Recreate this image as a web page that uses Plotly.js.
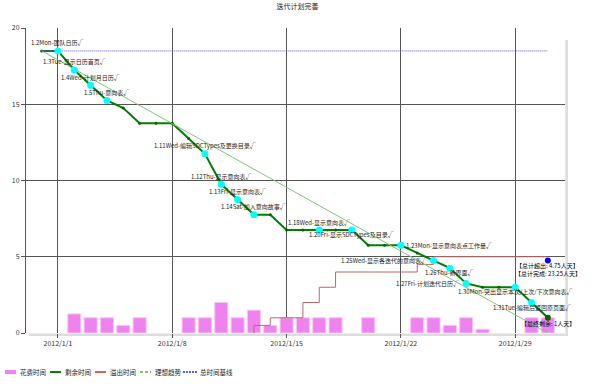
<!DOCTYPE html>
<html>
<head>
<meta charset="utf-8">
<script src="https://cdn.plot.ly/plotly-3.0.1.min.js"></script>
<style>html,body{margin:0;padding:0;background:#fff;}#chart{width:595px;height:387px;}</style>
</head>
<body>
<div id="chart"></div>
<script>
// ---- data ----
const chartTitle = '迭代计划完善';
const seriesNames = ['花费时间', '剩余时间', '溢出时间', '理想趋势', '总时间基线'];

// spent time per day (bars)
const spentDates = ['2012-01-02','2012-01-03','2012-01-04','2012-01-05','2012-01-06',
  '2012-01-09','2012-01-10','2012-01-11','2012-01-12','2012-01-13','2012-01-14',
  '2012-01-15','2012-01-16','2012-01-17','2012-01-18','2012-01-20',
  '2012-01-23','2012-01-24','2012-01-25','2012-01-26','2012-01-27',
  '2012-01-30','2012-01-31'];
const spentValues = [1.25,1,1,0.5,1, 1,1,2,1,1.5,0.5, 1,1,1,1,1, 1,1,0.5,1,0.25, 1,1];

// remaining time
const remainDates = ['2011-12-31','2012-01-01','2012-01-02','2012-01-03','2012-01-04','2012-01-05',
  '2012-01-06','2012-01-07','2012-01-08','2012-01-09','2012-01-10','2012-01-11','2012-01-12',
  '2012-01-13','2012-01-14','2012-01-15','2012-01-16','2012-01-17','2012-01-18','2012-01-19',
  '2012-01-20','2012-01-21','2012-01-22','2012-01-23','2012-01-24','2012-01-25','2012-01-26',
  '2012-01-27','2012-01-28','2012-01-29','2012-01-30','2012-01-31'];
const remainValues = [18.5,18.5,17.25,16.25,15.25,14.75,
  13.75,13.75,13.75,12.75,11.75,9.75,8.75,
  7.75,7.75,6.75,6.75,6.75,6.75,6.75,
  5.75,5.75,5.75,5.25,4.75,4.25,3.25,
  3.0,3.0,3.0,2.0,1.0];

// overrun time (step line)
const overDates = ['2012-01-13','2012-01-13','2012-01-14','2012-01-15','2012-01-16','2012-01-17',
  '2012-01-18','2012-01-19','2012-01-20','2012-01-21','2012-01-22','2012-01-23','2012-01-24',
  '2012-01-25','2012-01-26','2012-01-27','2012-01-28','2012-01-29','2012-01-30','2012-01-31'];
const overValues = [0,0.5,1,1,2,3, 4,4,4,4,4,4.5,5, 5,5,5,5,5,5,5];

// ideal trend and total baseline
const idealDates = ['2011-12-31','2012-01-31'];
const idealValues = [18.5, 0];
const baseDates = ['2011-12-31','2012-01-31'];
const baseValues = [18.5, 18.5];

// milestones
const mileDates = ['2012-01-01','2012-01-02','2012-01-03','2012-01-04','2012-01-10','2012-01-11',
  '2012-01-12','2012-01-13','2012-01-17','2012-01-19','2012-01-22','2012-01-24','2012-01-25',
  '2012-01-26','2012-01-29','2012-01-30'];
const mileLabels = ['1.2Mon-团队日历√','1.3Tue-显示日历首页√','1.4Wed-计划月日历√','1.5Thu-意向表√',
  '1.11Wed-编辑SDCTypes及更换目录√','1.12Thu-显示意向表√','1.13Fri-显示意向表√','1.14Sat-加入意向故事√',
  '1.18Wed-显示意向表√','1.20Fri-显示SDCTypes及目录√','1.23Mon-显示意向表点工作量√',
  '1.25Wed-显示各迭代的意向表√','1.26Thu-新界面√','1.27Fri-计划迭代日历√',
  '1.30Mon-突出显示本次/上次/下次意向表√','1.31Tue-编辑后返回原页面√'];
const milePos = ['top','top','top','top','top','top','top','top','top',
  'bottom','right','left','bottom','left','bottom','bottom'];

const totalOverText = '【总计超出: 4.75人天】';
const totalDoneText = '【总计完成: 23.25人天】';
const finalRemainText = '【最终剩余: 1人天】';
const totalOver = 4.75;

// ---- build ----
const FONT = '"Noto Sans CJK SC", "Noto Sans", sans-serif';
const mileY = mileDates.map(d => remainValues[remainDates.indexOf(d)]);
const lastDate = remainDates[remainDates.length - 1];
const lastRemain = remainValues[remainValues.length - 1];
const DAY = 86400000;

const colors = {spent:'#ee82ee', remain:'#008000', over:'#c06666', ideal:'#7cc87c', base:'#5a5aff'};

const traces = [
  {type:'bar', name:seriesNames[0], x:spentDates, y:spentValues, width:0.8*DAY,
   marker:{color:colors.spent, line:{color:'#f6c6f6', width:1}}},
  {type:'scatter', mode:'lines+markers', name:seriesNames[1], x:remainDates, y:remainValues,
   line:{color:colors.remain, width:2}, marker:{color:'#006400', size:3}},
  {type:'scatter', mode:'lines', name:seriesNames[2], x:overDates, y:overValues,
   line:{color:colors.over, width:1, shape:'hv'}},
  {type:'scatter', mode:'lines', name:seriesNames[3], x:idealDates, y:idealValues,
   line:{color:colors.ideal, width:1}},
  {type:'scatter', mode:'lines', name:seriesNames[4], x:baseDates, y:baseValues,
   line:{color:colors.base, width:1, dash:'1px,1px'}},
  {type:'scatter', mode:'markers', name:'milestones', x:mileDates, y:mileY,
   marker:{color:'#00ffff', size:7}, cliponaxis:false},
  {type:'scatter', mode:'markers', name:'final', x:[lastDate], y:[lastRemain],
   marker:{color:'#006400', size:6}},
  {type:'scatter', mode:'markers', name:'overrun total', x:[lastDate], y:[totalOver],
   marker:{color:'#0000ff', size:6}}
];
traces.forEach(t => t.showlegend = false);

// milestone labels as annotations
const posStyle = {
  top:{xanchor:'center', yanchor:'middle', xshift:0, yshift:8},
  bottom:{xanchor:'center', yanchor:'middle', xshift:0, yshift:-4.5},
  right:{xanchor:'left', yanchor:'middle', xshift:3, yshift:0},
  left:{xanchor:'right', yanchor:'middle', xshift:-5, yshift:0}
};
const mileAnn = mileDates.map((d, i) => Object.assign({
  x:d, y:mileY[i], xref:'x', yref:'y', text:mileLabels[i], showarrow:false,
  font:{family:FONT, size:6, color:'#222'}
}, posStyle[milePos[i]]));

// manual compact legend (reference style)
const legendShapes = [];
const legendAnn = [];
const legY = -0.128;
const legItems = [[5, 18], [50, 63], [95, 108], [140, 153], [183, 198]];
const plotL = 26, plotW = 539;
const px = v => (v - plotL) / plotW;
const symStyles = [
  {kind:'rect', color:colors.spent},
  {kind:'line', color:colors.remain, width:2, dash:'solid'},
  {kind:'line', color:colors.over, width:2, dash:'solid'},
  {kind:'line', color:colors.ideal, width:2, dash:'3px,2px'},
  {kind:'line', color:colors.base, width:2, dash:'2px,1px'}
];
legItems.forEach((it, i) => {
  const s = symStyles[i];
  const w = i === 4 ? 14 : 11;
  if (s.kind === 'rect') {
    legendShapes.push({type:'rect', xref:'paper', yref:'paper', x0:px(it[0]), x1:px(it[0]+w),
      y0:legY - 2/305, y1:legY + 2/305, fillcolor:s.color, line:{width:0}});
  } else {
    legendShapes.push({type:'line', xref:'paper', yref:'paper', x0:px(it[0]), x1:px(it[0]+w),
      y0:legY, y1:legY, line:{color:s.color, width:s.width, dash:s.dash}});
  }
  legendAnn.push({xref:'paper', yref:'paper', x:px(it[1]), y:legY, xanchor:'left', yanchor:'middle',
    text:seriesNames[i], showarrow:false, font:{family:FONT, size:6.5, color:'#222'}});
});

const layout = {
  width:595, height:387,
  margin:{l:26, r:30, t:28, b:54, autoexpand:false},
  paper_bgcolor:'#fff', plot_bgcolor:'#fff',
  font:{family:FONT, size:7, color:'#333'},
  title:{text:chartTitle, x:0.5, xanchor:'center', y:0.982, yanchor:'middle',
         font:{family:FONT, size:7, color:'#222'}},
  showlegend:false,
  bargap:0,
  xaxis:{type:'date', range:['2011-12-30 01:00','2012-02-01 01:12'],
         tickvals:['2012-01-01','2012-01-08','2012-01-15','2012-01-22','2012-01-29'],
         ticktext:['2012/1/1','2012/1/8','2012/1/15','2012/1/22','2012/1/29'],
         showgrid:true, gridcolor:'#555', gridwidth:1,
         ticks:'outside', ticklen:4, tickcolor:'#555',
         showline:false, zeroline:false, tickfont:{size:7, color:'#333'}},
  yaxis:{range:[0,20], tickvals:[0,5,10,15,20], showgrid:true, gridcolor:'#555', gridwidth:1,
         ticks:'outside', ticklen:4, tickcolor:'#555', showline:true, linecolor:'#555',
         zeroline:false, tickfont:{size:7, color:'#333'}},
  shapes:[
    {type:'rect', xref:'paper', yref:'paper', x0:1.0005, x1:1+3/539, y0:-3/305, y1:1-12/305,
     fillcolor:'#dddddd', line:{width:0}, layer:'below'},
    {type:'rect', xref:'paper', yref:'paper', x0:0.005, x1:1.0005, y0:-3/305, y1:-0.5/305,
     fillcolor:'#dddddd', line:{width:0}, layer:'below'}
  ].concat(legendShapes),
  annotations:[
    {x:lastDate, y:totalOver, xref:'x', yref:'y', text:totalOverText, showarrow:false,
     yshift:-5, font:{family:FONT, size:6, color:'#000'}},
    {x:lastDate, y:totalOver, xref:'x', yref:'y', text:totalDoneText, showarrow:false,
     yshift:-13, font:{family:FONT, size:6, color:'#000'}},
    {x:lastDate, y:lastRemain, xref:'x', yref:'y', text:finalRemainText, showarrow:false,
     yshift:-6, font:{family:FONT, size:6, color:'#000'}}
  ].concat(mileAnn, legendAnn)
};

Plotly.newPlot('chart', traces, layout, {displayModeBar:false, staticPlot:true});
</script>
</body>
</html>
